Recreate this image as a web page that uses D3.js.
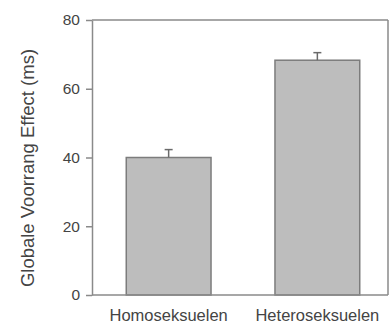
<!DOCTYPE html>
<html>
<head>
<meta charset="utf-8">
<script src="https://cdn.jsdelivr.net/npm/d3@7/dist/d3.min.js"></script>
<style>
  html, body { margin: 0; padding: 0; background: #fff; }
  svg { display: block; }
  text { font-family: "Liberation Sans", Arial, sans-serif; fill: #444; }
</style>
</head>
<body>
<svg id="chart" width="389" height="325"></svg>
<script>
// Data
const categories = ["Homoseksuelen", "Heteroseksuelen"];
const values = [40.0, 68.3];
const errors = [2.3, 2.2];
const yTicks = [0, 20, 40, 60, 80];
const yTitle = "Globale Voorrang Effect (ms)";

const svg = d3.select("#chart");
const mLeft = 92, mRight = 388, mTop = 20, mBottom = 295;

const x = d3.scaleBand().domain(categories).range([98, 388])
  .paddingInner(0.43).paddingOuter(0.19);
const y = d3.scaleLinear().domain([0, 80]).range([mBottom, mTop]);

const axisColor = "#8a8a8a";

// frame top and right
svg.append("line").attr("x1", mLeft).attr("x2", mRight).attr("y1", mTop).attr("y2", mTop)
  .attr("stroke", axisColor).attr("stroke-width", 1.5);
svg.append("line").attr("x1", mRight).attr("x2", mRight).attr("y1", mTop).attr("y2", mBottom)
  .attr("stroke", axisColor).attr("stroke-width", 1.5);

// bars
svg.selectAll("rect.bar").data(categories).enter().append("rect")
  .attr("class", "bar")
  .attr("x", d => x(d))
  .attr("width", x.bandwidth())
  .attr("y", (d, i) => y(values[i]))
  .attr("height", (d, i) => y(0) - y(values[i]))
  .attr("fill", "#bdbdbd")
  .attr("stroke", "#7c7c7c")
  .attr("stroke-width", 1.5);

// error bars (upper only)
const eb = svg.selectAll("g.err").data(categories).enter().append("g").attr("class", "err");
eb.append("line")
  .attr("x1", d => x(d) + x.bandwidth() / 2)
  .attr("x2", d => x(d) + x.bandwidth() / 2)
  .attr("y1", (d, i) => y(values[i]))
  .attr("y2", (d, i) => y(values[i] + errors[i]))
  .attr("stroke", "#6a6a6a").attr("stroke-width", 1.5);
eb.append("line")
  .attr("x1", d => x(d) + x.bandwidth() / 2 - 4)
  .attr("x2", d => x(d) + x.bandwidth() / 2 + 4)
  .attr("y1", (d, i) => y(values[i] + errors[i]))
  .attr("y2", (d, i) => y(values[i] + errors[i]))
  .attr("stroke", "#6a6a6a").attr("stroke-width", 1.5);

// y axis
const yAxis = svg.append("g").attr("transform", `translate(${mLeft},0)`)
  .call(d3.axisLeft(y).tickValues(yTicks).tickSize(6).tickPadding(6).tickSizeOuter(0));
yAxis.select(".domain").attr("stroke", axisColor).attr("stroke-width", 1.5);
yAxis.selectAll(".tick line").attr("stroke", axisColor).attr("stroke-width", 1.5);
yAxis.selectAll(".tick text").attr("font-size", 15.5)
  .attr("font-family", "Liberation Sans, Arial, sans-serif").attr("fill", "#444");

// x axis
const xAxis = svg.append("g").attr("transform", `translate(0,${mBottom})`)
  .call(d3.axisBottom(x).tickSize(0).tickPadding(14).tickSizeOuter(0));
xAxis.select(".domain").attr("d", `M${mLeft},0H${mRight}`)
  .attr("stroke", axisColor).attr("stroke-width", 1.5);
xAxis.selectAll(".tick text").attr("font-size", 16.5)
  .attr("font-family", "Liberation Sans, Arial, sans-serif").attr("fill", "#444");

// y title
svg.append("text")
  .attr("transform", `translate(34,168) rotate(-90)`)
  .attr("text-anchor", "middle")
  .attr("font-size", 18.5)
  .text(yTitle);
</script>
</body>
</html>
